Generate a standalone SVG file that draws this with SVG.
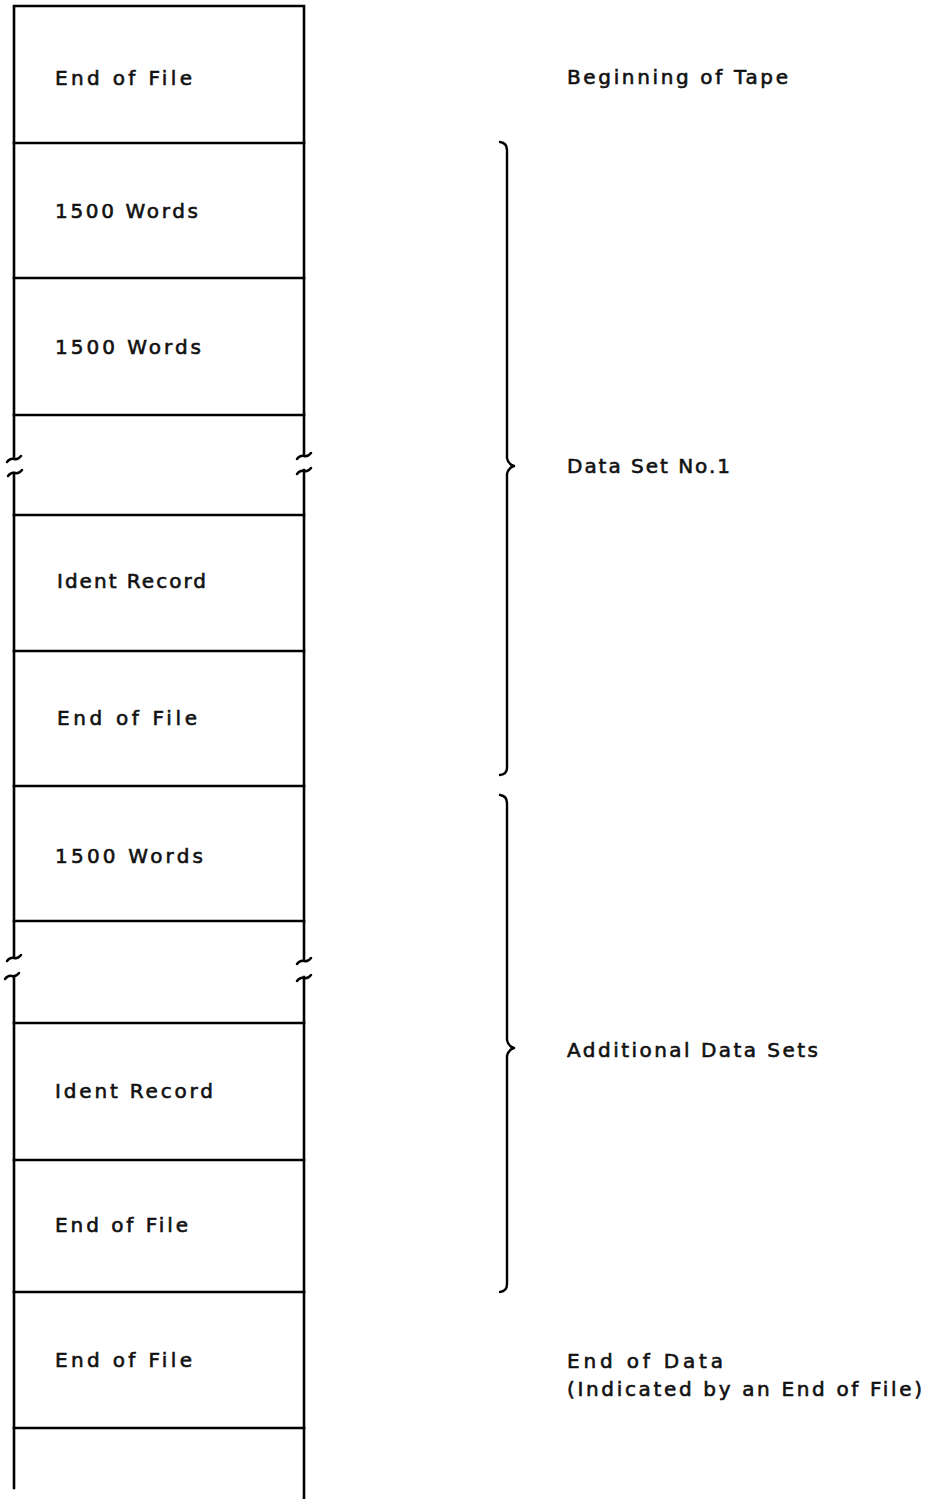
<svg xmlns="http://www.w3.org/2000/svg" width="932" height="1499" viewBox="0 0 932 1499">
<style>
.ln{stroke:#000;stroke-width:2.6;fill:none;stroke-linecap:square}
.br{stroke:#000;stroke-width:2.4;fill:none;stroke-linecap:round;stroke-linejoin:round}
.t{font-family:"DejaVu Sans","Liberation Sans",sans-serif;font-size:20px;font-weight:normal;fill:#111;stroke:#111;stroke-width:0.6}
</style>
<rect width="932" height="1499" fill="#fff"/>
<g id="cell-eof-1">
<path class="ln" d="M14,6H304M14,6V143M304,6V143"/>
<text class="t" x="55" y="85" textLength="137" lengthAdjust="spacing">End of File</text>
</g>
<g id="cell-1500-1">
<path class="ln" d="M14,143H304M14,143V278M304,143V278"/>
<text class="t" x="55" y="218" textLength="143" lengthAdjust="spacing">1500 Words</text>
</g>
<g id="cell-1500-2">
<path class="ln" d="M14,278H304M14,278V415M304,278V415"/>
<text class="t" x="55" y="354" textLength="146" lengthAdjust="spacing">1500 Words</text>
</g>
<g id="cell-break-1">
<path class="ln" d="M14,415H304M14,415V458M304,415V455M14,473V515M304,470V515"/>
<path class="br" d="M7,462q3,-4 7,-3t7,-3M8,476q3,-4 7,-3t7,-3M297,459q3,-4 7,-3t7,-3M297,474q3,-4 7,-3t7,-3"/>
</g>
<g id="cell-ident-1">
<path class="ln" d="M14,515H304M14,515V651M304,515V651"/>
<text class="t" x="57" y="588" textLength="149" lengthAdjust="spacing">Ident Record</text>
</g>
<g id="cell-eof-2">
<path class="ln" d="M14,651H304M14,651V786M304,651V786"/>
<text class="t" x="57" y="725" textLength="140" lengthAdjust="spacing">End of File</text>
</g>
<g id="cell-1500-3">
<path class="ln" d="M14,786H304M14,786V921M304,786V921"/>
<text class="t" x="55" y="863" textLength="148" lengthAdjust="spacing">1500 Words</text>
</g>
<g id="cell-break-2">
<path class="ln" d="M14,921H304M14,921V956M304,921V960M14,977V1023M304,977V1023"/>
<path class="br" d="M7,961q3,-4 7,-3t7,-3M5,979q3,-4 7,-3t7,-3M297,964q3,-4 7,-3t7,-3M297,981q3,-4 7,-3t7,-3"/>
</g>
<g id="cell-ident-2">
<path class="ln" d="M14,1023H304M14,1023V1160M304,1023V1160"/>
<text class="t" x="55" y="1098" textLength="158" lengthAdjust="spacing">Ident Record</text>
</g>
<g id="cell-eof-3">
<path class="ln" d="M14,1160H304M14,1160V1292M304,1160V1292"/>
<text class="t" x="55" y="1232" textLength="133" lengthAdjust="spacing">End of File</text>
</g>
<g id="cell-eof-4">
<path class="ln" d="M14,1292H304M14,1292V1428M304,1292V1428"/>
<text class="t" x="55" y="1367" textLength="137" lengthAdjust="spacing">End of File</text>
</g>
<g id="cell-open">
<path class="ln" d="M14,1428H304M14,1428V1488M304,1428V1499"/>
</g>
<g id="connectors">
<path class="br" d="M500,142Q507,143 507,150V458Q508,464 514,466Q508,468 507,474V768Q507,774 500,775"/>
<path class="br" d="M500,795Q507,796 507,803V1040Q508,1046 514,1048Q508,1050 507,1056V1284Q507,1291 500,1292"/>
</g>
<g id="label-bot">
<text class="t" x="567" y="84" textLength="221" lengthAdjust="spacing">Beginning of Tape</text>
</g>
<g id="label-ds1">
<text class="t" x="567" y="473" textLength="163" lengthAdjust="spacing">Data Set No.1</text>
</g>
<g id="label-ads">
<text class="t" x="567" y="1057" textLength="251" lengthAdjust="spacing">Additional Data Sets</text>
</g>
<g id="label-eod">
<text class="t" x="567" y="1368" textLength="156" lengthAdjust="spacing">End of Data</text>
<text class="t" x="567" y="1396" textLength="355" lengthAdjust="spacing">(Indicated by an End of File)</text>
</g>
</svg>
